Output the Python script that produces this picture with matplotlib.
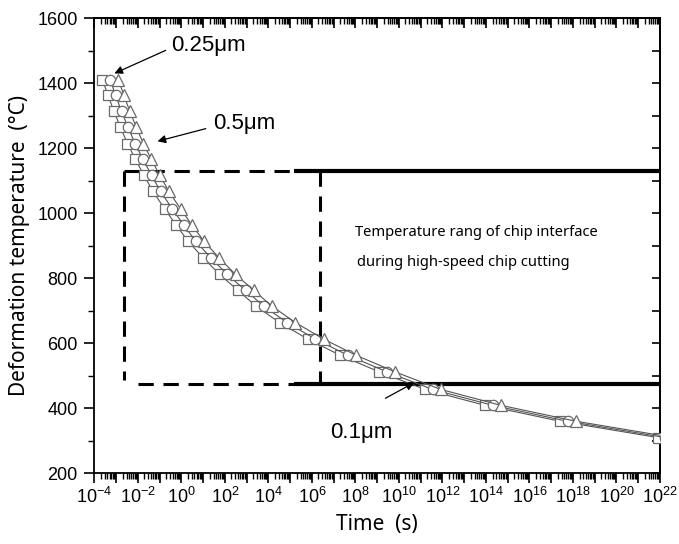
import numpy as np
import matplotlib
matplotlib.use("Agg")
import matplotlib.pyplot as plt
from matplotlib.ticker import (LogLocator, NullFormatter, MultipleLocator, FixedLocator,
                               FuncFormatter)

plt.rcParams['font.family'] = ['Liberation Sans', 'DejaVu Sans']
plt.rcParams['mathtext.fontset'] = 'custom'
plt.rcParams['mathtext.rm'] = 'Liberation Sans'
plt.rcParams['mathtext.it'] = 'Liberation Sans:italic'
plt.rcParams['mathtext.bf'] = 'Liberation Sans:bold'
plt.rcParams['lines.scale_dashes'] = False

# ---- data (log10 of time in s, temperature in degC) ----
temps = [1412, 1363, 1314, 1265, 1215, 1166, 1117, 1068, 1014, 963, 915, 864,
         812, 763, 714, 664, 613, 563, 512, 458, 409, 360, 310]
logt_sq = [-3.63, -3.37, -3.10, -2.80, -2.48, -2.11, -1.72, -1.31, -0.77, -0.23,
           0.30, 0.99, 1.76, 2.60, 3.44, 4.51, 5.81, 7.31, 9.10, 11.20, 13.97, 17.42, 21.90]
logt_ci = [-3.28, -3.02, -2.75, -2.45, -2.13, -1.76, -1.37, -0.96, -0.42, 0.12,
           0.65, 1.34, 2.11, 2.95, 3.79, 4.86, 6.16, 7.66, 9.45, 11.55, 14.32, 17.77, 22.25]
logt_tr = [-2.90, -2.64, -2.37, -2.07, -1.75, -1.38, -0.99, -0.58, -0.04, 0.50,
           1.03, 1.72, 2.49, 3.33, 4.17, 5.24, 6.54, 8.04, 9.83, 11.93, 14.70, 18.15, 22.63]

range_high = 1130
range_low = 476
box_left_log = -2.63
box_right_log = 6.36
solid_start_log = 5.16

fig = plt.figure(figsize=(6.79, 5.44), dpi=100)
ax = fig.add_axes([0.139, 0.130, 0.833, 0.836])

mk = dict(markerfacecolor='white', markeredgecolor='#6a6a6a', markeredgewidth=0.9,
          color='#555555', lw=0.8, clip_on=True)
ax.plot(10.0 ** np.array(logt_sq), temps, marker='s', markersize=7, **mk, zorder=3)
ax.plot(10.0 ** np.array(logt_ci), temps, marker='o', markersize=7.5, **mk, zorder=3)
ax.plot(10.0 ** np.array(logt_tr), temps, marker='^', markersize=8.5, **mk, zorder=3)

ax.set_xscale('log')
ax.set_xlim(1e-4, 1e22)
ax.set_ylim(200, 1600)

# temperature range box
dash = (11, 7)
lw_box = 2.2
bl, br, bs = 10.0 ** box_left_log, 10.0 ** box_right_log, 10.0 ** solid_start_log
ax.plot([bl, bs], [range_high, range_high], color='k', lw=lw_box, dashes=dash, zorder=2)
ax.plot([10.0 ** (-2.0), bs], [range_low, range_low], color='k', lw=lw_box, dashes=dash, zorder=2)
ax.plot([bl, bl], [range_high, range_low + 10], color='k', lw=lw_box, dashes=dash, zorder=2)
ax.plot([br, br], [range_high, range_low], color='k', lw=lw_box, dashes=dash, zorder=2)
ax.plot([bs, 1e22], [range_high, range_high], color='k', lw=3.0, solid_capstyle='butt', zorder=2)
ax.plot([bs, 1e22], [range_low, range_low], color='k', lw=3.0, solid_capstyle='butt', zorder=2)

txtfont = ['Noto Sans', 'DejaVu Sans']
ax.text(1e8, 941, 'Temperature rang of chip interface', fontsize=10.6, family=txtfont,
        va='center', ha='left')
ax.text(10 ** 8.08, 849, 'during high-speed chip cutting', fontsize=10.6, family=txtfont,
        va='center', ha='left')

# annotations
ap = dict(arrowstyle='-|>', color='k', lw=0.9, mutation_scale=12, shrinkA=0, shrinkB=0)
ax.annotate('', xy=(10 ** -3.08, 1431), xytext=(10 ** -0.72, 1502), arrowprops=ap)
ax.text(10 ** -0.45, 1517, '0.25μm', fontsize=16, va='center', ha='left')
ax.annotate('', xy=(10 ** -1.1, 1222), xytext=(10 ** 1.12, 1261), arrowprops=ap)
ax.text(10 ** 1.45, 1277, '0.5μm', fontsize=16, va='center', ha='left')
ax.annotate('', xy=(10 ** 10.7, 479), xytext=(10 ** 9.38, 431), arrowprops=ap)
ax.text(10 ** 6.85, 326, '0.1μm', fontsize=16, va='center', ha='left')

# ticks
ax.xaxis.set_major_locator(FixedLocator([10.0 ** k for k in range(-4, 23)]))
ax.xaxis.set_minor_locator(LogLocator(base=10, subs=np.arange(2, 10), numticks=100))
def fmt(v, pos):
    k = int(round(np.log10(v)))
    if k % 2 == 0:
        return r'$\mathdefault{10^{%d}}$' % k
    return ''
ax.xaxis.set_major_formatter(FuncFormatter(fmt))
ax.xaxis.set_minor_formatter(NullFormatter())
ax.yaxis.set_major_locator(MultipleLocator(200))
ax.yaxis.set_minor_locator(MultipleLocator(100))

ax.tick_params(axis='x', which='major', direction='out', length=7, width=1.2, labelsize=13, pad=3)
ax.tick_params(axis='x', which='minor', direction='out', length=4, width=1.0)
ax.tick_params(axis='y', which='major', direction='out', length=7, width=1.2, labelsize=13, pad=5)
ax.tick_params(axis='y', which='minor', direction='out', length=4, width=1.0)

# top & right ticks inward via secondary axes
sec = ax.secondary_xaxis('top')
sec.set_xscale('log')
sec.xaxis.set_major_locator(FixedLocator([10.0 ** k for k in range(-4, 23)]))
sec.xaxis.set_minor_locator(LogLocator(base=10, subs=np.arange(2, 10), numticks=100))
sec.tick_params(axis='x', which='major', direction='in', length=7, width=1.2, labeltop=False)
sec.tick_params(axis='x', which='minor', direction='in', length=4, width=1.0)
sec.spines['top'].set_linewidth(1.3)

secy = ax.secondary_yaxis('right')
secy.yaxis.set_major_locator(MultipleLocator(200))
secy.yaxis.set_minor_locator(MultipleLocator(100))
secy.tick_params(axis='y', which='major', direction='in', length=6, width=1.2, labelright=False)
secy.tick_params(axis='y', which='minor', direction='in', length=6, width=1.2)
secy.spines['right'].set_linewidth(1.3)

for s in ax.spines.values():
    s.set_linewidth(1.3)

ax.set_xlabel('Time  (s)', fontsize=15, family=['Noto Sans', 'DejaVu Sans'], labelpad=5)
ax.set_ylabel('Deformation temperature  (°C)', fontsize=15, family=['Noto Sans', 'DejaVu Sans'],
              labelpad=5)

fig.savefig('out.png', dpi=100)
